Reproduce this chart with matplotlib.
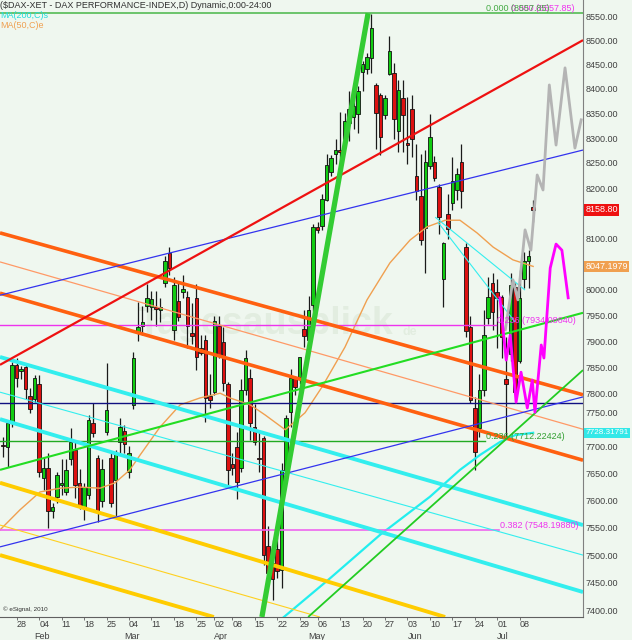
import numpy as np
import matplotlib
matplotlib.use("Agg")
import matplotlib.pyplot as plt
import matplotlib.transforms as mtransforms

plt.rcParams['font.family'] = ['Liberation Sans', 'DejaVu Sans']

# ---------------- data ----------------
# trading-day index: 0 = Mon 28 Jan 2013 (XETRA holidays skipped)
day_start = -3
opens = [7705, 7702, 7746, 7857, 7845, 7853, 7797, 7792, 7820, 7644,
         7662, 7582, 7609, 7630, 7618, 7679, 7696, 7635, 7591, 7612,
         7746, 7681, 7601, 7730, 7681, 7640, 7711, 7732, 7655, 7780,
         7918, 7932, 7970, 7968, 7968, 7962, 8015, 8074, 7923, 7980,
         7998, 7988, 7918, 7986, 7890, 7904, 7798, 7805, 7932, 7900,
         7820, 7670, 7702, 7662, 7809, 7832, 7740, 7682, 7719, 7518,
         7487, 7514, 7475, 7658, 7767, 7833, 7834, 7925, 7904, 7972,
         8124, 8126, 8178, 8234, 8270, 8278, 8300, 8333, 8345, 8351,
         8436, 8443, 8465, 8409, 8389, 8348, 8432, 8435, 8316, 8384,
         8292, 8360, 8226, 8187, 8123, 8245, 8254, 8204, 8023, 8150,
         8172, 8198, 8254, 8085, 7929, 7775, 7738, 7809, 7946, 8015,
         7998, 7988, 7830, 7878, 8007, 7865, 8023, 8057, 8165]
highs = [7720, 7752, 7863, 7870, 7855, 7861, 7813, 7837, 7838, 7683,
         7690, 7598, 7655, 7680, 7680, 7737, 7715, 7661, 7635, 7761,
         7784, 7687, 7679, 7861, 7690, 7696, 7757, 7743, 7703, 7882,
         7978, 7970, 8013, 8000, 8000, 7985, 8067, 8085, 8027, 8015,
         8030, 7999, 7975, 8013, 7915, 7914, 7840, 7950, 7950, 7930,
         7824, 7690, 7730, 7830, 7885, 7850, 7782, 7730, 7722, 7555,
         7530, 7535, 7672, 7762, 7850, 7836, 7872, 7962, 7990, 8130,
         8135, 8190, 8270, 8268, 8300, 8355, 8352, 8397, 8399, 8408,
         8459, 8475, 8557, 8414, 8393, 8390, 8510, 8455, 8420, 8420,
         8385, 8390, 8290, 8270, 8278, 8350, 8267, 8210, 8096, 8190,
         8265, 8242, 8290, 8094, 7950, 7796, 7840, 7962, 8027, 8035,
         8022, 7992, 7910, 8035, 8015, 8040, 8076, 8080, 8178]
lows = [7683, 7665, 7740, 7815, 7830, 7792, 7765, 7785, 7646, 7621,
        7552, 7570, 7597, 7612, 7612, 7668, 7607, 7586, 7567, 7605,
        7720, 7562, 7591, 7724, 7590, 7571, 7687, 7690, 7643, 7774,
        7902, 7915, 7958, 7944, 7932, 7940, 8008, 8030, 7904, 7942,
        7985, 7890, 7896, 7847, 7876, 7748, 7775, 7800, 7870, 7807,
        7631, 7650, 7605, 7655, 7800, 7714, 7705, 7655, 7484, 7451,
        7421, 7460, 7442, 7655, 7740, 7800, 7820, 7891, 7900, 7960,
        8112, 8118, 8176, 8225, 8250, 8230, 8290, 8296, 8320, 8313,
        8397, 8433, 8435, 8280, 8268, 8340, 8430, 8300, 8275, 8275,
        8250, 8265, 8178, 8090, 8035, 8240, 8215, 8110, 7968, 8100,
        8158, 8178, 8162, 7910, 7785, 7659, 7720, 7798, 7936, 7923,
        7890, 7870, 7720, 7865, 7804, 7860, 8005, 8005, 8135]
closes = [7703, 7746, 7857, 7832, 7850, 7811, 7774, 7832, 7655, 7662,
          7582, 7591, 7650, 7635, 7659, 7711, 7631, 7591, 7627, 7752,
          7727, 7582, 7660, 7771, 7598, 7692, 7739, 7707, 7690, 7870,
          7930, 7940, 7986, 7984, 7965, 7968, 8057, 8045, 8011, 7948,
          8003, 7932, 7912, 7872, 7880, 7794, 7790, 7942, 7876, 7822,
          7658, 7662, 7637, 7809, 7870, 7746, 7711, 7680, 7502, 7470,
          7459, 7473, 7658, 7757, 7832, 7815, 7872, 7912, 7962, 8124,
          8118, 8180, 8248, 8262, 8278, 8275, 8337, 8360, 8367, 8397,
          8453, 8468, 8528, 8352, 8305, 8383, 8480, 8340, 8399, 8348,
          8288, 8300, 8196, 8099, 8253, 8304, 8222, 8144, 8094, 8120,
          8216, 8230, 8196, 7921, 7790, 7692, 7809, 7915, 7988, 7958,
          7986, 7910, 7820, 8011, 7806, 7986, 8057, 8067, 8158.80]
days = np.arange(day_start, day_start + len(opens))

tick_days = [0, 5, 10, 15, 20, 25, 30, 35, 40, 44, 48, 53, 58, 63, 67, 72,
             77, 82, 87, 92, 97, 102, 107, 112]
tick_labels = ["28", "04", "11", "18", "25", "04", "11", "18", "25", "02",
               "08", "15", "22", "29", "06", "13", "20", "27", "03", "10",
               "17", "24", "01", "08"]
month_days = [4, 24, 44, 65, 87, 107]
month_labels = ["Feb", "Mar", "Apr", "May", "Jun", "Jul"]

ma50_days = [-3.72, 0.73, 5.19, 9.64, 14.1, 18.55, 21.9, 25.2, 27.5, 31.9,
             36.4, 40.8, 45.3, 47.5, 52.0, 55.3, 59.8, 64.2, 68.0, 73.1,
             78.0, 83.1, 87.6, 91.4, 95.4, 98.7, 102.5, 106.1, 110.5, 115.0]
ma50_vals = [7548, 7585, 7618, 7625, 7627, 7625, 7635, 7659, 7687, 7739,
             7781, 7794, 7803, 7794, 7781, 7762, 7734, 7766, 7815, 7891,
             7982, 8054, 8099, 8125, 8138, 8138, 8113, 8085, 8060, 8047.1979]

arc_days = [59.5, 69.8, 80.9, 92.0, 98.7, 103.2, 107.6, 111.0, 115.0]
arc_vals = [7390, 7460, 7539, 7609, 7659, 7687, 7711, 7724, 7728.31791]

fc_gray_days = [108.8, 110.5, 111.6, 113.2, 114.5, 115.9, 117.2, 118.6, 120.1, 122.1, 124.3, 125.7]
fc_gray_vals = [7924, 8021, 7982, 8119, 8079, 8228, 8198, 8410, 8288, 8445, 8282, 8339]
fc_mag_days = [107.6, 109.0, 109.9, 111.2, 112.3, 113.7, 114.8, 115.4, 116.8, 117.4, 118.8, 120.1, 121.4, 122.8]
fc_mag_vals = [7986, 7866, 7914, 7786, 7843, 7775, 7828, 7767, 7895, 7870, 8044, 8091, 8079, 7986]

x_lo, x_hi = -3.72, 126.1
red_line = ([x_lo, x_hi], [7857, 8502])
blue_hi = ([x_lo, x_hi], [7991, 8278])
blue_lo = ([x_lo, x_hi], [7517, 7796])
orange_a = ([x_lo, x_hi], [8113, 7800])
orange_b = ([x_lo, x_hi], [7995, 7677])
orange_thin = ([x_lo, x_hi], [8056, 7735])
cyan_a = ([x_lo, x_hi], [7872, 7557])
cyan_thin = ([x_lo, x_hi], [7805, 7502])
cyan_b = ([x_lo, x_hi], [7754, 7435])
gold_a = ([x_lo, 95.4], [7635, 7390])
gold_b = ([x_lo, 43.9], [7502, 7390])
gold_thin = ([x_lo, 67.5], [7557, 7390])
green_1 = ([x_lo, x_hi], [7659, 7957])
green_2 = ([64.9, x_hi], [7390, 7847])
green_trend = ([54.6, 78.24], [7390, 8557.85])
cyan_fan_a = ([93.2, 113.2], [8144, 8001])
cyan_fan_b = ([93.8, 111.0], [8134, 7939])

fib_top = 8557.85
fib_green_236 = 7712.22424
fib_mag_236 = 7934.0864
fib_mag_382 = 7548.1988
navy_level = 7784

last_price = 8158.80
ma50_last = 8047.1979
ma200_last = 7728.31791
axis_levels = [v for v in range(7400, 8551, 50) if v not in (8050, 8150)]

# ---------------- drawing ----------------
W, H = 632, 640
BG = '#eff7ef'
FS = 6.5
fig = plt.figure(figsize=(W / 100, H / 100), dpi=100, facecolor=BG)
ax = fig.add_axes([0, 23 / H, 583 / W, 617 / H], facecolor=BG)
ax.set_yscale('log')
ax.set_xlim(x_lo, x_hi)
ax.set_ylim(7390.0, 8585.4)

# watermark
ax.text(0.455, 0.475, 'Tagesausblick', transform=ax.transAxes, fontsize=27,
        fontweight='bold', color='#e2ede0', ha='center', va='center', zorder=0)
ax.text(0.69, 0.462, 'de', transform=ax.transAxes, fontsize=9,
        fontweight='bold', color='#e2ede0', ha='left', va='center', zorder=0)

# candles
o = np.array(opens, float); c = np.array(closes, float)
hi = np.array(highs, float); lo = np.array(lows, float)
ax.vlines(days, lo, hi, color='#1a1a1a', lw=0.9, zorder=2)
up = c >= o
bottom = np.minimum(o, c)
height = np.maximum(np.abs(c - o), 1.5)
ax.bar(days[up], height[up], bottom=bottom[up], width=0.78, color='#11cc11',
       edgecolor='#111111', linewidth=0.6, zorder=3)
ax.bar(days[~up], height[~up], bottom=bottom[~up], width=0.78, color='#dd1111',
       edgecolor='#111111', linewidth=0.6, zorder=3)

# moving averages / curves
ax.plot(ma50_days, ma50_vals, color='#f0a050', lw=1.0, zorder=4)
ax.plot(arc_days, arc_vals, color='#22eeee', lw=1.6, zorder=4)

# horizontal levels
ax.axhline(fib_top, color='#55bb55', lw=1.2, zorder=4)
ax.plot([x_lo, 104.3], [fib_green_236] * 2, color='#22aa22', lw=1.0, zorder=4)
ax.plot([x_lo, 106.8], [fib_mag_236] * 2, color='#ee33ee', lw=1.0, zorder=4)
ax.plot([x_lo, 107.5], [fib_mag_382] * 2, color='#ee66ee', lw=1.2, zorder=4)
ax.axhline(navy_level, color='#101080', lw=1.0, zorder=4)

# trend lines
def tl(line, color, lw):
    ax.plot(line[0], line[1], color=color, lw=lw, zorder=5, solid_capstyle='butt')

tl(gold_thin, '#ffd020', 0.8)
tl(gold_a, '#ffcc00', 2.8)
tl(gold_b, '#ffcc00', 2.8)
tl(cyan_thin, '#33eeee', 0.8)
tl(cyan_a, '#33eeee', 2.8)
tl(cyan_b, '#33eeee', 2.8)
tl(orange_thin, '#ff9966', 0.9)
tl(orange_a, '#ff6010', 2.6)
tl(orange_b, '#ff6010', 2.6)
tl(blue_hi, '#3333ee', 0.9)
tl(blue_lo, '#3333ee', 0.9)
tl(red_line, '#ee1111', 1.6)
tl(green_1, '#22dd22', 1.5)
tl(green_2, '#22cc22', 1.3)
tl(cyan_fan_a, '#33eeee', 0.8)
tl(cyan_fan_b, '#33eeee', 0.8)
tl(green_trend, '#33cc33', 3.8)

# forecast paths
ax.plot(fc_gray_days, fc_gray_vals, color='#b4b4b4', lw=2.0, zorder=6)
ax.plot(fc_mag_days, fc_mag_vals, color='#ff00ff', lw=2.0, zorder=6)

# fib labels
ax.text(110.0, fib_top, '0.000 (8557.85)', color='#ee33ee', fontsize=FS,
        ha='left', va='bottom', zorder=7)
ax.text(104.5, fib_top, '0.000 (8557.85)', color='#44aa44', fontsize=FS,
        ha='left', va='bottom', zorder=7)
ax.text(104.5, fib_green_236, '0.236 (7712.22424)', color='#33a033', fontsize=FS,
        ha='left', va='bottom', zorder=7)
ax.text(107.0, fib_mag_236, '0.236 (7934.08640)', color='#ee33ee', fontsize=FS,
        ha='left', va='bottom', zorder=7, clip_on=True)
ax.text(107.6, fib_mag_382, '0.382 (7548.19880)', color='#ee33ee', fontsize=FS,
        ha='left', va='bottom', zorder=7, clip_on=True)

# axes styling
for s in ('top', 'left'):
    ax.spines[s].set_visible(False)
ax.spines['bottom'].set_color('#606060')
ax.spines['right'].set_color('#808080')
ax.yaxis.set_major_locator(matplotlib.ticker.NullLocator())
ax.yaxis.set_minor_locator(matplotlib.ticker.NullLocator())
ax.set_xticks(tick_days)
ax.set_xticklabels(tick_labels, ha='left', fontsize=FS, color='#404040')
ax.tick_params(axis='x', length=2, width=0.6, color='#606060', pad=0.5)

ytr = ax.get_yaxis_transform()
for v in axis_levels:
    off = mtransforms.ScaledTranslation(3 / 100, (8 / 100) if v == 7750 else 0, fig.dpi_scale_trans)
    ax.text(1.0, v, f'{v:.2f}', transform=ytr + off, fontsize=FS, color='#404040',
            ha='left', va='center', clip_on=False)

def value_box(v, txt, color, fs=FS):
    off = mtransforms.ScaledTranslation(2.5 / 100, 0, fig.dpi_scale_trans)
    ax.text(1.0, v, txt, transform=ytr + off, fontsize=fs, color='white',
            ha='left', va='center', clip_on=False, zorder=8,
            bbox=dict(facecolor=color, edgecolor='none', pad=1.0))

value_box(last_price, '8158.80', '#ee1111')
value_box(ma50_last, '8047.1979', '#f0a050')
value_box(ma200_last, '7728.31791', '#33e8e8', fs=5.9)

xtr = ax.get_xaxis_transform()
for d, m in zip(month_days, month_labels):
    ax.text(d, -19.5 / 617, m, transform=xtr, fontsize=FS, color='#404040',
            ha='left', va='center', clip_on=False)

# header texts
fig.text(0.5 / W, 1 - 5 / H, '($DAX-XET - DAX PERFORMANCE-INDEX,D) Dynamic,0:00-24:00',
         fontsize=FS, color='#303030', ha='left', va='center')
fig.text(0.5 / W, 1 - 16 / H, 'MA(200,C)s', fontsize=FS, color='#22dddd', ha='left', va='center')
fig.text(0.5 / W, 1 - 26 / H, 'MA(50,C)e', fontsize=FS, color='#f0a050', ha='left', va='center')
fig.text(3 / W, 1 - 609 / H, '\u00a9 eSignal, 2010', fontsize=4.5, color='#303030',
         ha='left', va='center')

fig.savefig('out.png', dpi=100, facecolor=BG)
